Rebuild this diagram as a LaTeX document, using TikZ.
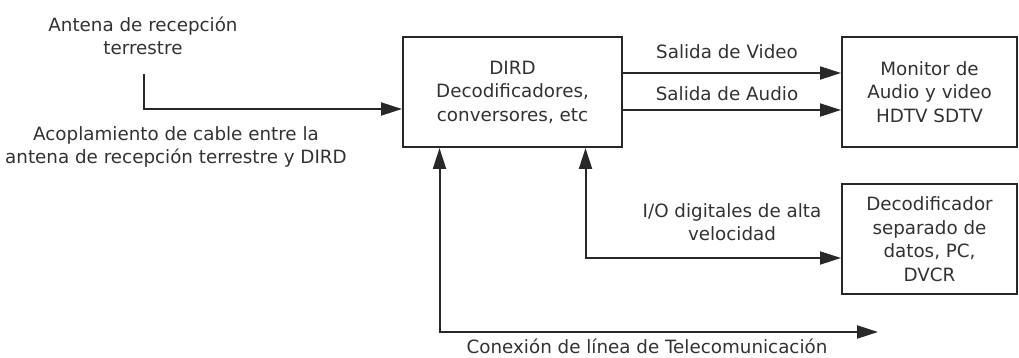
\documentclass[tikz,border=0pt]{standalone}
\usepackage{fontspec}
\setmainfont{DejaVu Sans}
\usetikzlibrary{arrows.meta,positioning,calc}
\definecolor{lineagray}{RGB}{40,40,40}
\definecolor{textgray}{RGB}{50,50,50}

\begin{document}
\begin{tikzpicture}[x=1pt, y=1pt, >={Triangle[length=21pt,width=13pt]},
  font=\fontsize{18.3}{23.5}\selectfont, text=textgray,
  bloque/.style={draw=lineagray, line width=2pt, align=center, inner sep=2pt,
    minimum height=110pt},
  conector/.style={draw=lineagray, line width=2pt},
  etiqueta/.style={align=center, inner sep=1pt}]
\useasboundingbox (0,0) rectangle (1019,358);
\node[bloque, minimum width=219pt] (dird) at (512.5,266)
  {DIRD\\Decodificadores,\\conversores, etc};
\node[bloque, minimum width=175pt] (monitor) at (929.5,266)
  {Monitor de\\Audio y video\\HDTV SDTV};
\node[bloque, minimum width=175pt] (decod) at (929.5,119)
  {Decodificador\\separado de\\datos, PC,\\DVCR};
\node[etiqueta] (antena) at (143,322) {Antena de recepción\\terrestre};
\node[etiqueta] (acopla) at (176,211)
  {Acoplamiento de cable entre la\\antena de recepción terrestre y DIRD};
\node[etiqueta] (video) at (727,306) {Salida de Video};
\node[etiqueta] (audio) at (727,264) {Salida de Audio};
\node[etiqueta] (io) at (732,136) {I/O digitales de alta\\velocidad};
\node[etiqueta] (telecom) at (647,11.5) {Conexión de línea de Telecomunicación};
\coordinate (antpie) at (144,284);
\coordinate (telfin) at (878,26);
\draw[conector, ->] (antpie) |- ([yshift=-17pt]dird.west);
\draw[conector, ->] ([yshift=19pt]dird.east) -- ([yshift=19pt]monitor.west);
\draw[conector, ->] ([yshift=-18pt]dird.east) -- ([yshift=-18pt]monitor.west);
\draw[conector, <->] ([xshift=73pt]dird.south) |- ([yshift=-19pt]decod.west);
\draw[conector, <->] ([xshift=-73pt]dird.south) |- (telfin);
\end{tikzpicture}
\end{document}
